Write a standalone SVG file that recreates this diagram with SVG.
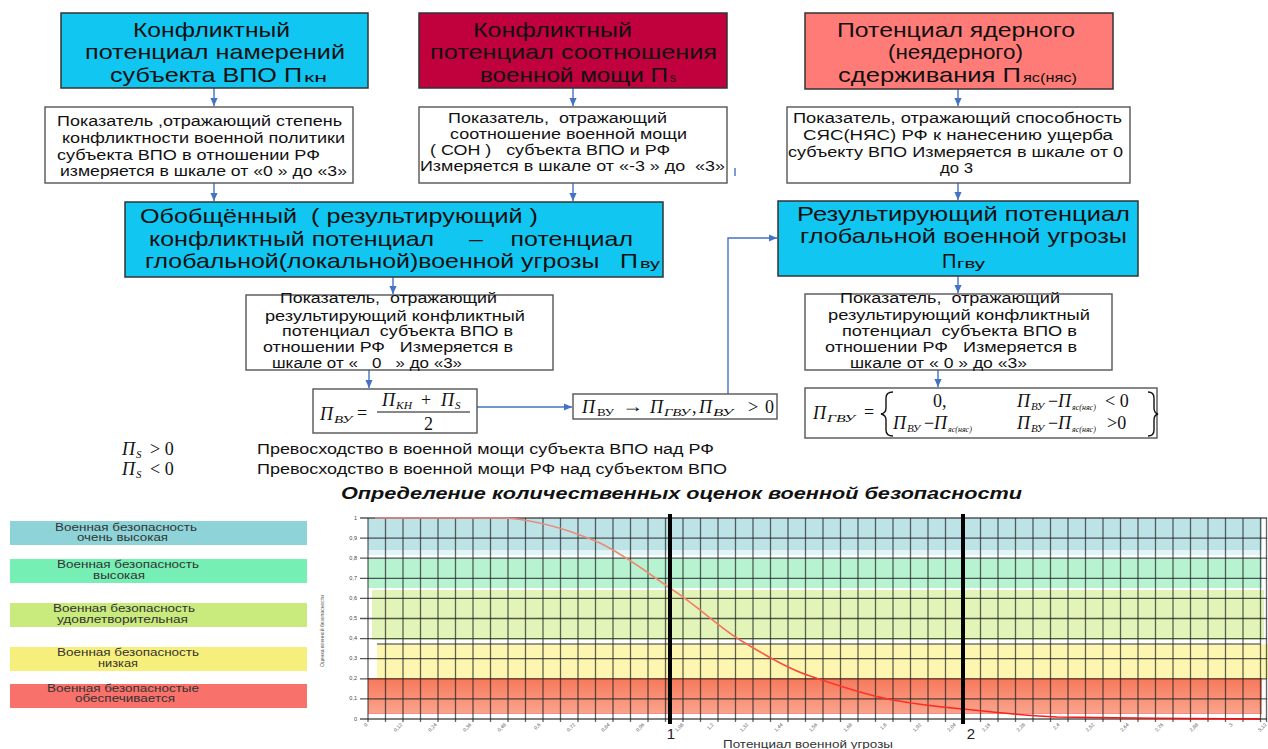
<svg xmlns="http://www.w3.org/2000/svg" width="1268" height="749" viewBox="0 0 1268 749">
<style>
text{white-space:pre;font-family:"Liberation Sans",Arial,sans-serif;fill:#111}
.t1{font-size:21px}
.sub{font-size:12px}
.t2{font-size:14px}
.lg{font-size:10px;fill:#333}
.m{font-family:"Liberation Serif","Times New Roman",serif;font-style:italic;font-size:18px}
.ms{font-family:"Liberation Serif","Times New Roman",serif;font-style:italic;font-size:11px}
.mr{font-family:"Liberation Serif","Times New Roman",serif;font-size:18px}
.box{stroke:#333;stroke-width:1.5}
.wbox{fill:#fff;stroke:#555;stroke-width:1.4}
.cn{fill:none;stroke:#4472c4;stroke-width:1.4}
.yl{font-size:5.5px;fill:#444;text-anchor:end}
.xl{font-size:5px;fill:#555;text-anchor:end}
</style>
<defs>
<marker id="ah" viewBox="0 0 10 10" refX="10" refY="5" markerWidth="9" markerHeight="8" orient="auto" markerUnits="userSpaceOnUse">
<path d="M0,0.5 L10,5 L0,9.5 z" fill="#4472c4"/>
</marker>
<linearGradient id="crv" gradientUnits="userSpaceOnUse" x1="375" y1="0" x2="1260" y2="0">
<stop offset="0" stop-color="#e08a8a"/>
<stop offset="0.35" stop-color="#f08a6a"/>
<stop offset="0.5" stop-color="#ff3a2a"/>
<stop offset="1" stop-color="#ff0000"/>
</linearGradient>
<linearGradient id="redb" x1="0" y1="0" x2="0" y2="1">
<stop offset="0" stop-color="#f7775a"/>
<stop offset="1" stop-color="#f9a48c"/>
</linearGradient>
</defs>
<rect width="1268" height="749" fill="#fff"/>

<g id="connectors">
<path class="cn" d="M214,88 V106" marker-end="url(#ah)"/>
<path class="cn" d="M214,183 V201" marker-end="url(#ah)"/>
<path class="cn" d="M573,88 V106" marker-end="url(#ah)"/>
<path class="cn" d="M573,183 V201" marker-end="url(#ah)"/>
<path class="cn" d="M958,89 V106" marker-end="url(#ah)"/>
<path class="cn" d="M958,183 V200" marker-end="url(#ah)"/>
<path class="cn" d="M393,277 V294" marker-end="url(#ah)"/>
<path class="cn" d="M369,370 V388" marker-end="url(#ah)"/>
<path class="cn" d="M477,407 H572" marker-end="url(#ah)"/>
<path class="cn" d="M728,394 V238 H777" marker-end="url(#ah)"/>
<path class="cn" d="M958,276 V293" marker-end="url(#ah)"/>
<path class="cn" d="M938,370 V387" marker-end="url(#ah)"/>
<path class="cn" d="M735,168 V176"/>
</g>

<g id="nodeA">
<rect class="box" x="61" y="13" width="307" height="75" fill="#12c6f2"/>
<text class="t1" x="133" y="37" textLength="157" lengthAdjust="spacingAndGlyphs">Конфликтный</text>
<text class="t1" x="85" y="59" textLength="260" lengthAdjust="spacingAndGlyphs">потенциал намерений</text>
<text class="t1" x="110" y="82" textLength="192" lengthAdjust="spacingAndGlyphs">субъекта ВПО П</text>
<text class="sub" x="304" y="82" textLength="23" lengthAdjust="spacingAndGlyphs">кн</text>
</g>
<g id="nodeA2">
<rect class="wbox" x="45" y="107" width="308" height="76"/>
<text class="t2" x="57" y="126" textLength="285" lengthAdjust="spacingAndGlyphs">Показатель ,отражающий степень</text>
<text class="t2" x="62" y="143" textLength="283" lengthAdjust="spacingAndGlyphs">конфликтности военной политики</text>
<text class="t2" x="57" y="160" textLength="263" lengthAdjust="spacingAndGlyphs">субъекта ВПО в отношении РФ</text>
<text class="t2" x="60" y="176" textLength="287" lengthAdjust="spacingAndGlyphs">измеряется в шкале от «0 » до «3»</text>
</g>

<g id="nodeB">
<rect class="box" x="419" y="13" width="308" height="75" fill="#c1003e"/>
<text class="t1" x="473" y="37" textLength="159" lengthAdjust="spacingAndGlyphs">Конфликтный</text>
<text class="t1" x="430" y="59" textLength="287" lengthAdjust="spacingAndGlyphs">потенциал соотношения</text>
<text class="t1" x="480" y="82" textLength="188" lengthAdjust="spacingAndGlyphs">военной мощи П</text>
<text class="sub" x="670" y="82">s</text>
</g>
<g id="nodeB2">
<rect class="wbox" x="419" y="107" width="308" height="76"/>
<text class="t2" x="448" y="123" textLength="219" lengthAdjust="spacingAndGlyphs">Показатель,  отражающий</text>
<text class="t2" x="450" y="139" textLength="237" lengthAdjust="spacingAndGlyphs">соотношение военной мощи</text>
<text class="t2" x="430" y="155" textLength="240" lengthAdjust="spacingAndGlyphs">( СОН )   субъекта ВПО и РФ</text>
<text class="t2" x="420" y="171" textLength="305" lengthAdjust="spacingAndGlyphs">Измеряется в шкале от «-3 » до  «3»</text>
</g>

<g id="nodeC">
<rect class="box" x="805" y="13" width="308" height="76" fill="#ff7b78"/>
<text class="t1" x="837" y="37" textLength="238" lengthAdjust="spacingAndGlyphs">Потенциал ядерного</text>
<text class="t1" x="888" y="59" textLength="135" lengthAdjust="spacingAndGlyphs">(неядерного)</text>
<text class="t1" x="838" y="82" textLength="183" lengthAdjust="spacingAndGlyphs">сдерживания П</text>
<text class="sub" x="1023" y="82" textLength="54" lengthAdjust="spacingAndGlyphs">яс(няс)</text>
</g>
<g id="nodeC2">
<rect class="wbox" x="787" y="107" width="343" height="76"/>
<text class="t2" x="793" y="123" textLength="329" lengthAdjust="spacingAndGlyphs">Показатель, отражающий способность</text>
<text class="t2" x="803" y="140" textLength="310" lengthAdjust="spacingAndGlyphs">СЯС(НЯС) РФ к нанесению ущерба</text>
<text class="t2" x="788" y="157" textLength="335" lengthAdjust="spacingAndGlyphs">субъекту ВПО Измеряется в шкале от 0</text>
<text class="t2" x="940" y="173" textLength="33" lengthAdjust="spacingAndGlyphs">до 3</text>
</g>

<g id="nodeD">
<rect class="box" x="125" y="202" width="538" height="75" fill="#12c6f2"/>
<text class="t1" x="140" y="223" textLength="398" lengthAdjust="spacingAndGlyphs">Обобщённый  ( результирующий )</text>
<text class="t1" x="149" y="246" textLength="484" lengthAdjust="spacingAndGlyphs">конфликтный потенциал     –    потенциал</text>
<text class="t1" x="145" y="268" textLength="493" lengthAdjust="spacingAndGlyphs">глобальной(локальной)военной угрозы   П</text>
<text class="sub" x="640" y="268" textLength="20" lengthAdjust="spacingAndGlyphs">ву</text>
</g>
<g id="nodeD2">
<rect class="wbox" x="246" y="295" width="307" height="75"/>
<text class="t2" x="280" y="303" textLength="217" lengthAdjust="spacingAndGlyphs">Показатель,  отражающий</text>
<text class="t2" x="265" y="321" textLength="260" lengthAdjust="spacingAndGlyphs">результирующий конфликтный</text>
<text class="t2" x="282" y="336" textLength="231" lengthAdjust="spacingAndGlyphs">потенциал  субъекта ВПО в</text>
<text class="t2" x="263" y="352" textLength="250" lengthAdjust="spacingAndGlyphs">отношении РФ   Измеряется в</text>
<text class="t2" x="272" y="368" textLength="190" lengthAdjust="spacingAndGlyphs">шкале от «   0   » до «3»</text>
</g>

<g id="nodeE">
<rect class="box" x="778" y="201" width="360" height="75" fill="#12c6f2"/>
<text class="t1" x="797" y="221" textLength="333" lengthAdjust="spacingAndGlyphs">Результирующий потенциал</text>
<text class="t1" x="800" y="243" textLength="327" lengthAdjust="spacingAndGlyphs">глобальной военной угрозы</text>
<text class="t1" x="942" y="268" style="font-size:20px">П</text>
<text class="sub" x="957" y="268" textLength="28" lengthAdjust="spacingAndGlyphs">гву</text>
</g>
<g id="nodeE2">
<rect class="wbox" x="805" y="294" width="307" height="76"/>
<text class="t2" x="840" y="303" textLength="220" lengthAdjust="spacingAndGlyphs">Показатель,  отражающий</text>
<text class="t2" x="828" y="320" textLength="262" lengthAdjust="spacingAndGlyphs">результирующий конфликтный</text>
<text class="t2" x="842" y="336" textLength="235" lengthAdjust="spacingAndGlyphs">потенциал  субъекта ВПО в</text>
<text class="t2" x="825" y="352" textLength="252" lengthAdjust="spacingAndGlyphs">отношении РФ   Измеряется в</text>
<text class="t2" x="850" y="368" textLength="177" lengthAdjust="spacingAndGlyphs">шкале от « 0 » до «3»</text>
</g>

<g id="formula1">
<rect class="wbox" x="313" y="389" width="164" height="44"/>
<text class="m" x="320" y="420">П</text>
<text class="ms" x="334" y="423" textLength="18" lengthAdjust="spacingAndGlyphs">ВУ</text>
<text class="mr" x="357" y="419">=</text>
<text class="m" x="382" y="406">П</text>
<text class="ms" x="396" y="409" textLength="16" lengthAdjust="spacingAndGlyphs">КН</text>
<text class="mr" x="421" y="406">+</text>
<text class="m" x="441" y="406">П</text>
<text class="ms" x="455" y="409">S</text>
<line x1="377" y1="412" x2="470" y2="412" stroke="#111" stroke-width="1"/>
<text class="mr" x="424" y="430">2</text>
</g>

<g id="formula2">
<rect class="wbox" x="573" y="394" width="204" height="25"/>
<text class="m" x="582" y="413">П</text>
<text class="ms" x="597" y="416" style="font-style:normal" textLength="17" lengthAdjust="spacingAndGlyphs">ВУ</text>
<text class="mr" x="622" y="412" textLength="21" lengthAdjust="spacingAndGlyphs">→</text>
<text class="m" x="650" y="413">П</text>
<text class="ms" x="664" y="416" textLength="26" lengthAdjust="spacingAndGlyphs">ГВУ</text>
<text class="mr" x="692" y="413">,</text>
<text class="m" x="699" y="413">П</text>
<text class="ms" x="713" y="416" textLength="20" lengthAdjust="spacingAndGlyphs">ВУ</text>
<text class="mr" x="748" y="413">&gt;</text>
<text class="mr" x="765" y="413">0</text>
</g>

<g id="formula3">
<rect class="wbox" x="805" y="388" width="352" height="50"/>
<text class="m" x="813" y="419">П</text>
<text class="ms" x="827" y="422" textLength="28" lengthAdjust="spacingAndGlyphs">ГВУ</text>
<text class="mr" x="864" y="418">=</text>
<path d="M893,392 Q886,392 886,398 V408 Q886,413 881,414 Q886,415 886,420 V430 Q886,436 893,436" fill="none" stroke="#111" stroke-width="1.4"/>
<path d="M1148,392 Q1154,392 1154,398 V408 Q1154,413 1158,414 Q1154,415 1154,420 V430 Q1154,436 1148,436" fill="none" stroke="#111" stroke-width="1.4"/>
<text class="mr" x="933" y="407">0,</text>
<text class="m" x="1017" y="407">П</text>
<text class="ms" x="1031" y="410">ВУ</text>
<text class="mr" x="1048" y="407">−</text>
<text class="m" x="1058" y="407">П</text>
<text class="ms" x="1072" y="410" style="font-size:8px">яс(няс)</text>
<text class="mr" x="1105" y="407">&lt; 0</text>
<text class="m" x="893" y="429">П</text>
<text class="ms" x="907" y="432">ВУ</text>
<text class="mr" x="924" y="429">−</text>
<text class="m" x="934" y="429">П</text>
<text class="ms" x="948" y="432" style="font-size:8px">яс(няс)</text>
<text class="m" x="1017" y="429">П</text>
<text class="ms" x="1031" y="432">ВУ</text>
<text class="mr" x="1048" y="429">−</text>
<text class="m" x="1058" y="429">П</text>
<text class="ms" x="1072" y="432" style="font-size:8px">яс(няс)</text>
<text class="mr" x="1107" y="429">&gt;0</text>
</g>

<g id="notes">
<text class="m" x="122" y="455">П</text>
<text class="ms" x="136" y="458">S</text>
<text class="mr" x="150" y="455">&gt; 0</text>
<text class="m" x="122" y="475">П</text>
<text class="ms" x="136" y="478">S</text>
<text class="mr" x="150" y="475">&lt; 0</text>
<text class="t2" x="257" y="454" textLength="457" lengthAdjust="spacingAndGlyphs">Превосходство в военной мощи субъекта ВПО над РФ</text>
<text class="t2" x="257" y="474" textLength="470" lengthAdjust="spacingAndGlyphs">Превосходство в военной мощи РФ над субъектом ВПО</text>
<text x="341" y="499" style="font-size:16px;font-weight:bold;font-style:italic" textLength="681" lengthAdjust="spacingAndGlyphs">Определение количественных оценок военной безопасности</text>
</g>

<g id="legend">
<rect x="10" y="521" width="297" height="24" fill="#8dd3d8"/>
<text class="lg" x="55" y="531" textLength="142" lengthAdjust="spacingAndGlyphs">Военная безопасность</text>
<text class="lg" x="77" y="541" textLength="91" lengthAdjust="spacingAndGlyphs">очень высокая</text>
<rect x="10" y="559" width="297" height="24" fill="#75efb3"/>
<text class="lg" x="57" y="568" textLength="142" lengthAdjust="spacingAndGlyphs">Военная безопасность</text>
<text class="lg" x="93" y="579" textLength="52" lengthAdjust="spacingAndGlyphs">высокая</text>
<rect x="10" y="603" width="297" height="24" fill="#c9ea7c"/>
<text class="lg" x="53" y="612" textLength="142" lengthAdjust="spacingAndGlyphs">Военная безопасность</text>
<text class="lg" x="57" y="623" textLength="131" lengthAdjust="spacingAndGlyphs">удовлетворительная</text>
<rect x="10" y="647" width="297" height="24" fill="#f7ef7b"/>
<text class="lg" x="57" y="656" textLength="142" lengthAdjust="spacingAndGlyphs">Военная безопасность</text>
<text class="lg" x="98" y="667" textLength="40" lengthAdjust="spacingAndGlyphs">низкая</text>
<rect x="10" y="684" width="297" height="24" fill="#f8716a"/>
<text class="lg" x="47" y="692" textLength="152" lengthAdjust="spacingAndGlyphs">Военная безопасностые</text>
<text class="lg" x="75" y="702" textLength="100" lengthAdjust="spacingAndGlyphs">обеспечивается</text>
</g>

<g id="chart">
<rect x="368" y="518" width="894" height="32" fill="#bde3e7"/>
<rect x="368" y="550" width="894" height="5" fill="#e2f5f6"/>
<rect x="368" y="558" width="894" height="30" fill="#b7f2d1"/>
<rect x="372" y="590" width="892" height="50" fill="#e3f4b9"/>
<rect x="377" y="644" width="891" height="34" fill="#fdf6b0"/>
<line x1="377" y1="644" x2="1260" y2="644" stroke="#333" stroke-width="1"/>
<rect x="368" y="678" width="894" height="35" fill="url(#redb)"/>
<line x1="368" y1="713.5" x2="1262" y2="713.5" stroke="#f88" stroke-width="1.2"/>
<path d="M360,518H1267M360,538.1H1267M360,558.2H1267M360,578.3H1267M360,598.4H1267M360,618.5H1267M360,638.6H1267M360,658.7H1267M360,678.8H1267M360,698.9H1267M360,719H1267" stroke="#222" stroke-width="1.3" stroke-opacity="0.75" fill="none"/>
<path d="M368,518V722M385.5,518V722M403,518V722M420.5,518V722M438,518V722M455.5,518V722M473,518V722M490.5,518V722M508,518V722M525.5,518V722M543,518V722M560.5,518V722M578,518V722M595.5,518V722M613,518V722M630.5,518V722M648,518V722M665.5,518V722M683,518V722M700.5,518V722M718,518V722M735.5,518V722M753,518V722M770.5,518V722M788,518V722M805.5,518V722M823,518V722M840.5,518V722M858,518V722M875.5,518V722M893,518V722M910.5,518V722M928,518V722M945.5,518V722M963,518V722M980.5,518V722M998,518V722M1015.5,518V722M1033,518V722M1050.5,518V722M1068,518V722M1085.5,518V722M1103,518V722M1120.5,518V722M1138,518V722M1155.5,518V722M1173,518V722M1190.5,518V722M1208,518V722M1225.5,518V722M1243,518V722M1260.5,518V722M1266.5,518V722" stroke="#222" stroke-width="1.3" stroke-opacity="0.7" fill="none"/>
<path d="M375,518 L505,518 C540,520 570,530 600,543 C630,558 650,575 673,590 C700,608 720,628 740,640 C765,655 790,670 813,677 C845,688 870,696 893,700 C920,705 940,707 963,709 C1000,713 1030,716 1057,717 C1120,718 1200,719 1260,719" fill="none" stroke="url(#crv)" stroke-width="1.6"/>
<line x1="670" y1="514" x2="670" y2="724" stroke="#000" stroke-width="4"/>
<line x1="963" y1="514" x2="963" y2="724" stroke="#000" stroke-width="4"/>
<text class="yl" x="357" y="520">1</text>
<text class="yl" x="357" y="540">0,9</text>
<text class="yl" x="357" y="560">0,8</text>
<text class="yl" x="357" y="580">0,7</text>
<text class="yl" x="357" y="600">0,6</text>
<text class="yl" x="357" y="620">0,5</text>
<text class="yl" x="357" y="640">0,4</text>
<text class="yl" x="357" y="660">0,3</text>
<text class="yl" x="357" y="680">0,2</text>
<text class="yl" x="357" y="700">0,1</text>
<text class="yl" x="357" y="721">0</text>
<text transform="translate(324,631) rotate(-90)" style="font-size:5.5px;fill:#555;text-anchor:middle" textLength="72" lengthAdjust="spacingAndGlyphs">Оценка военной безопасности</text>
<g class="xlabels">
<text class="xl" transform="translate(368,725) rotate(-45)">0</text>
<text class="xl" transform="translate(402.6,725) rotate(-45)">0,12</text>
<text class="xl" transform="translate(437.2,725) rotate(-45)">0,24</text>
<text class="xl" transform="translate(471.8,725) rotate(-45)">0,36</text>
<text class="xl" transform="translate(506.4,725) rotate(-45)">0,48</text>
<text class="xl" transform="translate(541,725) rotate(-45)">0,6</text>
<text class="xl" transform="translate(575.6,725) rotate(-45)">0,72</text>
<text class="xl" transform="translate(610.2,725) rotate(-45)">0,84</text>
<text class="xl" transform="translate(644.8,725) rotate(-45)">0,96</text>
<text class="xl" transform="translate(684,725) rotate(-45)">1,08</text>
<text class="xl" transform="translate(714,725) rotate(-45)">1,2</text>
<text class="xl" transform="translate(748.6,725) rotate(-45)">1,32</text>
<text class="xl" transform="translate(783.2,725) rotate(-45)">1,44</text>
<text class="xl" transform="translate(817.8,725) rotate(-45)">1,56</text>
<text class="xl" transform="translate(852.4,725) rotate(-45)">1,68</text>
<text class="xl" transform="translate(887,725) rotate(-45)">1,8</text>
<text class="xl" transform="translate(921.6,725) rotate(-45)">1,92</text>
<text class="xl" transform="translate(956.2,725) rotate(-45)">2,04</text>
<text class="xl" transform="translate(990.8,725) rotate(-45)">2,16</text>
<text class="xl" transform="translate(1025.4,725) rotate(-45)">2,28</text>
<text class="xl" transform="translate(1060,725) rotate(-45)">2,4</text>
<text class="xl" transform="translate(1094.6,725) rotate(-45)">2,52</text>
<text class="xl" transform="translate(1129.2,725) rotate(-45)">2,64</text>
<text class="xl" transform="translate(1163.8,725) rotate(-45)">2,76</text>
<text class="xl" transform="translate(1198.4,725) rotate(-45)">2,88</text>
<text class="xl" transform="translate(1233,725) rotate(-45)">3</text>
<text class="xl" transform="translate(1267,725) rotate(-45)">3,12</text>
</g>
<text x="671" y="739" style="font-size:15px;fill:#222;text-anchor:middle">1</text>
<text x="971" y="739" style="font-size:15px;fill:#222;text-anchor:middle">2</text>
<text x="723" y="748" style="font-size:11px;fill:#333" textLength="170" lengthAdjust="spacingAndGlyphs">Потенциал военной угрозы</text>
</g>
</svg>
